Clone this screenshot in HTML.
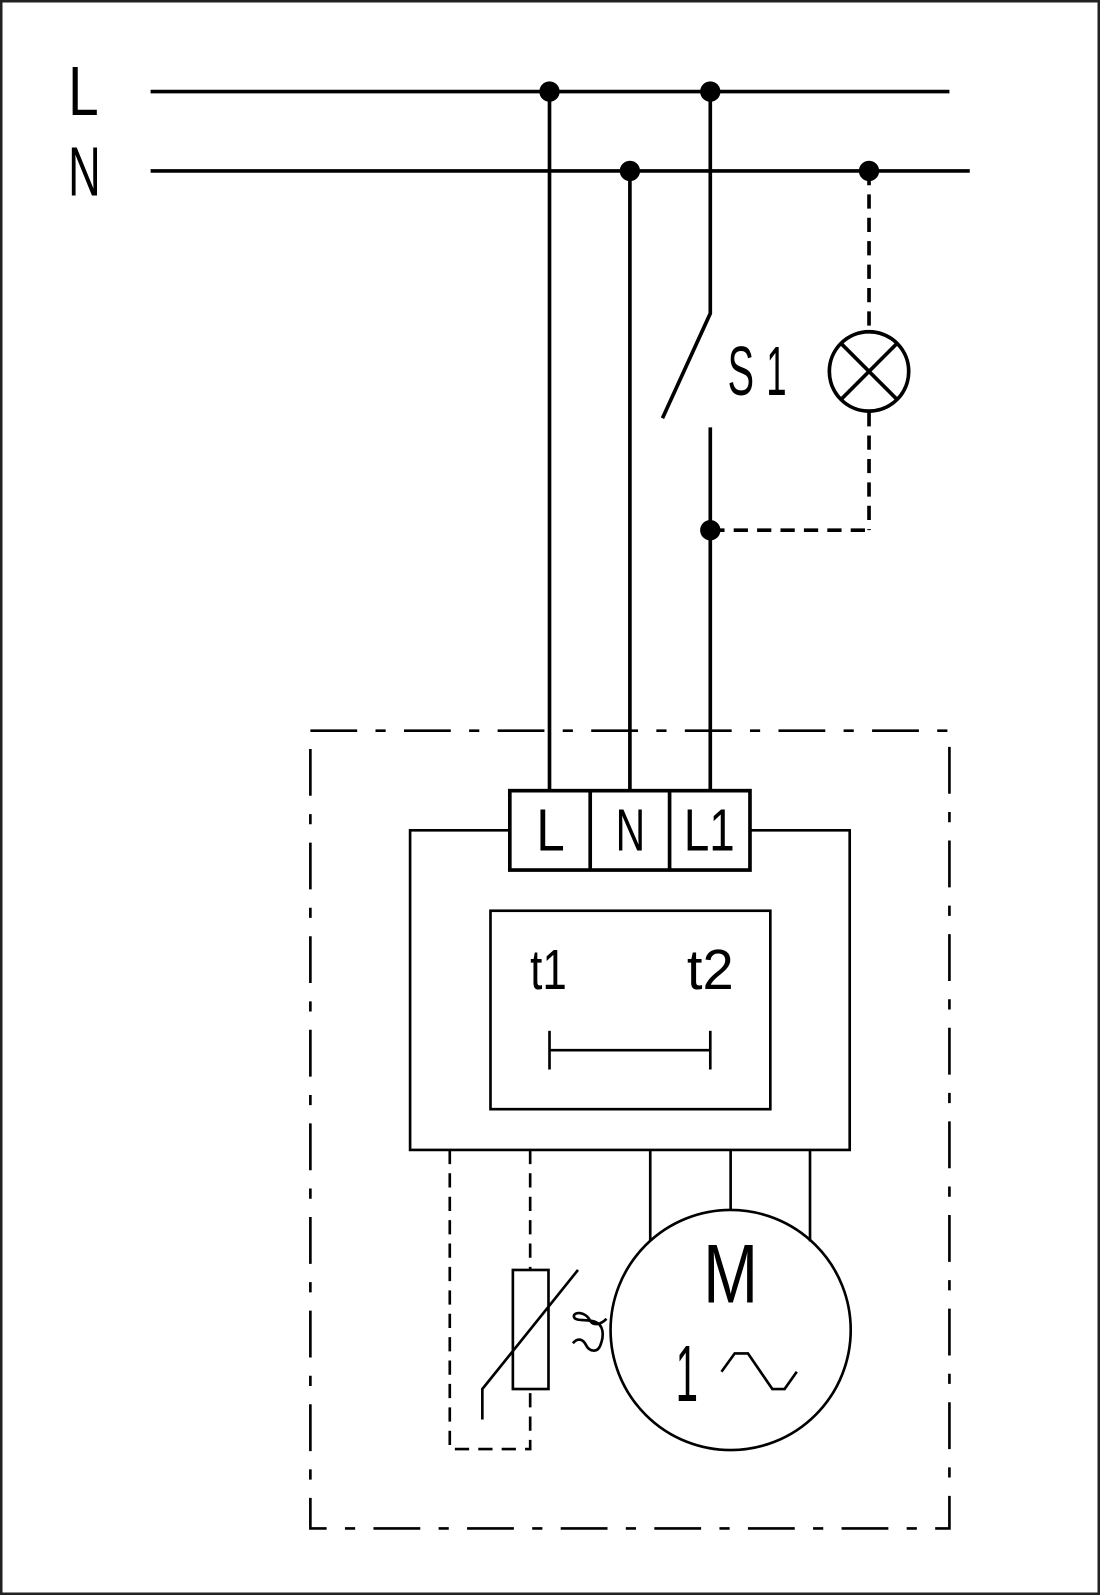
<!DOCTYPE html>
<html><head><style>
html,body{margin:0;padding:0;background:#fff}
svg{display:block}
text{font-family:"Liberation Sans",sans-serif;fill:#000}
</style></head><body>
<svg width="1100" height="1595" viewBox="0 0 1100 1595" xmlns="http://www.w3.org/2000/svg">
<rect x="1" y="1" width="1098" height="1593" fill="#fff" stroke="#222" stroke-width="3"/>
<g transform="scale(1.0176)">
<g stroke="#000" fill="none" stroke-width="3.6">
<line x1="148" y1="90" x2="933" y2="90"/>
<line x1="148" y1="168" x2="953" y2="168"/>
<line x1="540" y1="90" x2="540" y2="777"/>
<line x1="619" y1="168" x2="619" y2="777"/>
<polyline points="698,90 698,308 651,411"/>
<line x1="698" y1="420" x2="698" y2="777"/>
<g stroke-dasharray="14,9">
<line x1="854" y1="168" x2="854" y2="326"/>
<line x1="854" y1="405" x2="854" y2="521"/>
<line x1="698" y1="521" x2="854" y2="521"/>
</g>
<circle cx="854" cy="365" r="39"/>
<line x1="827" y1="338" x2="881" y2="392"/>
<line x1="881" y1="338" x2="827" y2="392"/>
<rect x="501" y="777" width="236" height="78"/>
<line x1="580" y1="777" x2="580" y2="855"/>
<line x1="658" y1="777" x2="658" y2="855"/>
</g>
<g fill="#000">
<circle cx="540" cy="90" r="10"/><circle cx="698" cy="90" r="10"/>
<circle cx="619" cy="168" r="10"/><circle cx="854" cy="168" r="10"/>
<circle cx="698" cy="521" r="10"/>
</g>
<g stroke="#000" fill="none" stroke-width="2.6">
<path d="M305 718 H933 V1502 H305 Z" stroke-dasharray="46,18,10,18"/>
<polyline points="501,816 403,816 403,1130 835,1130 835,816 737,816"/>
<rect x="482" y="895" width="275" height="195"/>
<line x1="540" y1="1032" x2="698" y2="1032"/>
<line x1="540" y1="1013" x2="540" y2="1051"/>
<line x1="698" y1="1013" x2="698" y2="1051"/>
<g stroke-dasharray="14,9">
<polyline points="442,1130 442,1424 521,1424 521,1365"/>
<line x1="521" y1="1130" x2="521" y2="1248"/>
</g>
<rect x="504" y="1248" width="35" height="117"/>
<polyline points="474,1395 474,1365 568,1248"/>
<line x1="639" y1="1130" x2="639" y2="1220"/>
<line x1="718" y1="1130" x2="718" y2="1189"/>
<line x1="796" y1="1130" x2="796" y2="1220"/>
<circle cx="718" cy="1307" r="118"/>
<polyline points="709,1348 722,1330 735,1330 759,1365 771,1365 783,1348"/>
<path d="M563 1320 C568 1314 573 1316 576 1322 C579 1328 587 1330 590 1322 C594 1312 593 1302 585 1299 C578 1296 565 1299 564 1294 C563 1289 575 1288 580 1298 C583 1303 590 1302 596 1296"/>
</g>
<text x="67" y="113" font-size="68" textLength="30" lengthAdjust="spacingAndGlyphs">L</text>
<text x="67" y="192" font-size="68" textLength="32" lengthAdjust="spacingAndGlyphs">N</text>
<text x="715" y="388" font-size="68" textLength="26" lengthAdjust="spacingAndGlyphs">S</text>
<text x="753" y="388" font-size="68" textLength="20" lengthAdjust="spacingAndGlyphs">1</text>
<text x="527" y="836" font-size="58" textLength="28" lengthAdjust="spacingAndGlyphs">L</text>
<text x="605" y="836" font-size="58" textLength="29" lengthAdjust="spacingAndGlyphs">N</text>
<text x="672" y="836" font-size="58" textLength="50" lengthAdjust="spacingAndGlyphs">L1</text>
<text x="521" y="972" font-size="56" textLength="36" lengthAdjust="spacingAndGlyphs">t1</text>
<text x="675" y="972" font-size="56" textLength="46" lengthAdjust="spacingAndGlyphs">t2</text>
<text x="691" y="1280" font-size="82" textLength="54" lengthAdjust="spacingAndGlyphs">M</text>
<text x="664" y="1377" font-size="78" textLength="22" lengthAdjust="spacingAndGlyphs">1</text>
</g>
</svg>
</body></html>
